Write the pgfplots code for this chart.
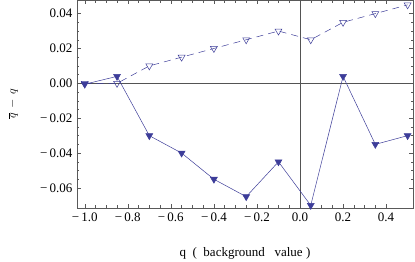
\documentclass[border=0pt]{standalone}
\usepackage{fontspec}
\setmainfont{Liberation Serif}
\usepackage{pgfplots}
\pgfplotsset{compat=1.18}
\definecolor{mblue}{rgb}{0.24,0.24,0.6}
\begin{document}
\begin{tikzpicture}
\useasboundingbox (-77pt,-54pt) rectangle (338pt,208pt);
\begin{axis}[
  at={(0pt,0pt)}, anchor=south west,
  scale only axis, width=336pt, height=208pt,
  xmin=-1.036, xmax=0.525, ymin=-0.0715, ymax=0.0478,
  axis line style={gray!70!black, line width=0.4pt},
  tick style={gray!70!black, line width=0.4pt},
  major tick length=4pt, minor tick length=2.5pt,
  tick align=inside,
  xtick={-1,-0.8,-0.6,-0.4,-0.2,0,0.2,0.4},
  xticklabels={−\,1.0,−\,0.8,−\,0.6,−\,0.4,−\,0.2,0.0,0.2,0.4},
  ytick={-0.06,-0.04,-0.02,0,0.02,0.04},
  yticklabels={−\,0.06,−\,0.04,−\,0.02,0.00,0.02,0.04},
  minor x tick num=3, minor y tick num=3,
  scaled y ticks=false,
  ticklabel style={font=\fontsize{13}{14}\selectfont, black},
  xticklabel style={yshift=-1pt},
  yticklabel style={xshift=-1pt},
  xlabel={q \ ( \ background \ \ value )},
  xlabel style={font=\fontsize{13}{14}\selectfont, yshift=-19pt},
  ylabel={$\overline{q}\, -\, q$},
  ylabel style={font=\fontsize{13}{14}\selectfont, at={(axis description cs:-0.19,0.5)}, anchor=center},
  clip=false,
]
\draw[gray!65!black, line width=0.4pt] (axis cs:0,-0.0715) -- (axis cs:0,0.0478);
\draw[gray!65!black, line width=0.4pt] (axis cs:-1.036,0) -- (axis cs:0.525,0);
\addplot[mblue, line width=0.5pt, mark=triangle*, mark size=4pt, mark options={rotate=180, fill=mblue}] coordinates {
(-1.0,-0.0005) (-0.85,0.004) (-0.7,-0.030) (-0.55,-0.040) (-0.4,-0.055) (-0.25,-0.065) (-0.1,-0.045) (0.05,-0.070) (0.2,0.004) (0.35,-0.035) (0.5,-0.030)
};
\addplot[mblue, line width=0.5pt, dash pattern=on 7pt off 5pt, mark=triangle, mark size=4pt, mark options={rotate=180, solid, fill=white}] coordinates {
(-1.0,0.0) (-0.85,0.0) (-0.7,0.010) (-0.55,0.015) (-0.4,0.020) (-0.25,0.025) (-0.1,0.030) (0.05,0.025) (0.2,0.035) (0.35,0.040) (0.5,0.045)
};
\end{axis}
\end{tikzpicture}
\end{document}
